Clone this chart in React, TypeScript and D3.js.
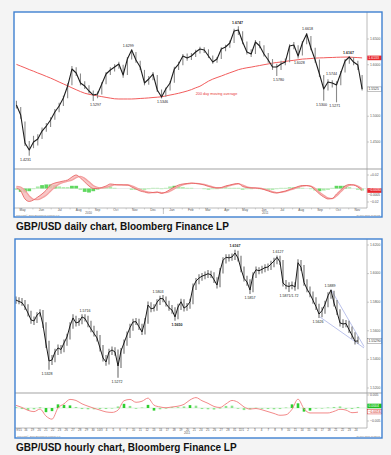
import React from "react";
import * as d3 from "d3";

const W = 391;
const H = 455;
const FONT = "'Liberation Sans', Arial, Helvetica, sans-serif";

// ---------- daily chart: one sample per week, May 2010 - Nov 2011 ----------
const dailyFirst = new Date(2010, 4, 5);
const dailyClose = [
  1.5218, 1.5024, 1.448, 1.4344, 1.45, 1.4558, 1.4713, 1.481, 1.4927, 1.5082,
  1.5199, 1.5354, 1.5587, 1.5917, 1.584, 1.5646, 1.5587, 1.549, 1.5412, 1.5432,
  1.5626, 1.582, 1.5898, 1.5956, 1.6014, 1.5801, 1.6112, 1.6286, 1.6092, 1.5956,
  1.5646, 1.5723, 1.582, 1.551, 1.5374, 1.5529, 1.5646, 1.5917, 1.6014, 1.617,
  1.6131, 1.617, 1.6248, 1.6306, 1.6286, 1.617, 1.6053, 1.6112, 1.6306, 1.6345,
  1.6422, 1.6655, 1.6675, 1.6442, 1.6248, 1.6209, 1.6442, 1.6364, 1.6209, 1.6092,
  1.5956, 1.5956, 1.6014, 1.6053, 1.6364, 1.6383, 1.617, 1.6422, 1.6597, 1.6325,
  1.6092, 1.582, 1.5529, 1.5665, 1.5646, 1.5607, 1.584, 1.6073, 1.615, 1.6053,
  1.5995, 1.5525,
];
const dailyHigh = [
  1.53, 1.518, 1.49, 1.452, 1.462, 1.465, 1.478, 1.487, 1.498, 1.514,
  1.526, 1.54, 1.564, 1.5975, 1.595, 1.583, 1.568, 1.56, 1.55, 1.548,
  1.566, 1.586, 1.595, 1.601, 1.606, 1.6, 1.615, 1.6299, 1.625, 1.608,
  1.59, 1.578, 1.586, 1.58, 1.552, 1.556, 1.568, 1.596, 1.606, 1.621,
  1.622, 1.623, 1.629, 1.635, 1.634, 1.63, 1.618, 1.615, 1.634, 1.639,
  1.647, 1.67, 1.6747, 1.665, 1.645, 1.63, 1.648, 1.646, 1.638, 1.623,
  1.611, 1.602, 1.608, 1.612, 1.64, 1.644, 1.638, 1.646, 1.6618, 1.656,
  1.633, 1.61, 1.58, 1.572, 1.57, 1.568, 1.588, 1.611, 1.6167, 1.615,
  1.608, 1.58,
];
const dailyLow = [
  1.515, 1.495, 1.442, 1.4231, 1.438, 1.443, 1.456, 1.47, 1.479, 1.493,
  1.508, 1.52, 1.535, 1.56, 1.578, 1.56, 1.553, 1.544, 1.5297, 1.535,
  1.542, 1.562, 1.58, 1.587, 1.592, 1.575, 1.58, 1.61, 1.604, 1.59,
  1.56, 1.561, 1.57, 1.547, 1.5346, 1.538, 1.55, 1.565, 1.59, 1.599,
  1.608, 1.609, 1.615, 1.622, 1.623, 1.613, 1.602, 1.604, 1.611, 1.626,
  1.633, 1.642, 1.658, 1.64, 1.62, 1.615, 1.621, 1.632, 1.616, 1.604,
  1.59, 1.578, 1.59, 1.599, 1.605, 1.63, 1.612, 1.618, 1.64, 1.628,
  1.604, 1.576, 1.53, 1.55, 1.556, 1.5271, 1.56, 1.585, 1.602, 1.599,
  1.59, 1.55,
];
const dailyMa200 = [
  1.6007, 1.5974, 1.5941, 1.5906, 1.5875, 1.584, 1.5809, 1.5774, 1.5741, 1.5704,
  1.5665, 1.5628, 1.5591, 1.5552, 1.5515, 1.5479, 1.5447, 1.5426, 1.5411, 1.5395,
  1.5381, 1.5366, 1.5352, 1.5339, 1.5335, 1.5335, 1.5335, 1.5335, 1.5339, 1.5345,
  1.535, 1.5356, 1.5364, 1.537, 1.5378, 1.5395, 1.5412, 1.5428, 1.5446, 1.5467,
  1.549, 1.5517, 1.5552, 1.5583, 1.5632, 1.5682, 1.5721, 1.5752, 1.5781, 1.5813,
  1.5844, 1.5873, 1.5904, 1.5925, 1.5941, 1.5954, 1.597, 1.5985, 1.6001, 1.6016,
  1.6032, 1.6044, 1.6053, 1.6065, 1.6077, 1.6086, 1.6098, 1.611, 1.6115, 1.6121,
  1.6129, 1.6133, 1.6135, 1.6139, 1.6141, 1.6145, 1.6147, 1.6149, 1.6149, 1.6143,
  1.6139, 1.6133,
];
const dailyMacd = [
  0.0007, -0.0037, -0.0155, -0.0192, -0.017, -0.0126, -0.0081, -0.0022, 0.0052, 0.0081,
  0.0096, 0.0111, 0.0126, 0.017, 0.02, 0.0155, 0.0096, 0.0037, 0, 0,
  0.0015, 0.0037, 0.0067, 0.0059, 0.0052, 0.0052, 0.0052, 0.0022, -0.0007, -0.0037,
  -0.0052, -0.0067, -0.0059, -0.0052, -0.0074, -0.0052, -0.0015, 0.0022, 0.0052, 0.0067,
  0.0074, 0.0081, 0.0074, 0.0067, 0.0052, 0.003, 0.0015, 0.0007, 0.0015, 0.0037,
  0.0052, 0.0067, 0.0074, 0.003, 0.0015, 0.0007, 0.0007, 0, -0.0015, -0.0037,
  -0.0059, -0.0067, -0.0052, -0.0037, -0.0015, 0.0007, 0.003, 0.0044, 0.0044, 0.003,
  -0.0022, -0.0081, -0.0126, -0.0155, -0.0148, -0.0081, -0.0022, 0.0037, 0.0059, 0.0052,
  0.0022, -0.003,
];
const dailySignal = [
  0.003, 0.002, -0.003, -0.011, -0.016, -0.0165, -0.014, -0.01, -0.004, 0.002,
  0.0065, 0.009, 0.0108, 0.0125, 0.016, 0.018, 0.015, 0.01, 0.0045, 0.0015,
  0.0005, 0.0015, 0.0035, 0.0055, 0.0058, 0.0055, 0.0052, 0.004, 0.0015, -0.0015,
  -0.004, -0.0055, -0.0062, -0.0058, -0.006, -0.0062, -0.004, -0.0005, 0.003, 0.0055,
  0.0068, 0.0075, 0.0076, 0.007, 0.006, 0.0042, 0.0025, 0.0012, 0.001, 0.0025,
  0.0042, 0.0058, 0.0068, 0.005, 0.0025, 0.0012, 0.0008, 0.0004, -0.0008, -0.0025,
  -0.0045, -0.006, -0.0058, -0.0045, -0.0025, -0.0005, 0.0018, 0.0036, 0.0044, 0.0036,
  0, -0.0055, -0.01, -0.014, -0.015, -0.011, -0.005, 0.001, 0.0048, 0.0055,
  0.0035, -0.0005,
];
const dailyHist = [
  -0.002, -0.005, -0.006, -0.004, -0.001, 0.003, 0.005, 0.006, 0.006, 0.005,
  0.003, 0.002, 0.002, 0.004, 0.004, -0.002, -0.005, -0.006, -0.004, -0.002,
  0.001, 0.002, 0.003, 0.001, 0, 0, 0, -0.002, -0.002, -0.002,
  -0.002, -0.001, 0.001, 0.001, -0.001, 0.001, 0.003, 0.004, 0.003, 0.002,
  0.001, 0.001, 0, 0, -0.001, -0.002, -0.001, -0.001, 0.001, 0.002,
  0.001, 0.001, 0.001, -0.002, -0.001, -0.001, 0, -0.001, -0.001, -0.002,
  -0.002, -0.001, 0.001, 0.001, 0.002, 0.002, 0.002, 0.001, 0, -0.001,
  -0.003, -0.004, -0.003, -0.002, 0.001, 0.004, 0.004, 0.004, 0.002, 0,
  -0.002, -0.003,
];
const dailyPriceTicks = [1.45, 1.5, 1.55, 1.6, 1.65];
const dailyMacdTicks = [-0.02, 0.02];
const dailyNotes = [
  { w: 2.1, p: 1.4231, side: "below", t: "1.4231" },
  { w: 18.5, p: 1.5297, side: "below", t: "1.5297" },
  { w: 26.2, p: 1.6299, side: "above", t: "1.6299" },
  { w: 34.2, p: 1.5346, side: "below", t: "1.5346" },
  { w: 51.8, p: 1.6747, side: "above", t: "1.6747", bold: true },
  { w: 61.4, p: 1.578, side: "below", t: "1.5780" },
  { w: 66.3, p: 1.6028, side: "on", t: "1.6028" },
  { w: 68.2, p: 1.6618, side: "above", t: "1.6618" },
  { w: 71.5, p: 1.53, side: "below", t: "1.5300" },
  { w: 73.8, p: 1.5744, side: "above", t: "1.5744" },
  { w: 74.6, p: 1.5271, side: "below", t: "1.5271" },
  { w: 77.8, p: 1.6167, side: "above", t: "1.6167", bold: true },
];

// ---------- hourly chart: Sep 15 - Nov 24 2011 ----------
const hourlyClose = [
  1.5815, 1.5805, 1.5797, 1.5766, 1.5724, 1.5676, 1.5669, 1.571, 1.5729, 1.5641,
  1.5508, 1.5389, 1.5396, 1.5452, 1.548, 1.5469, 1.5515, 1.5557, 1.5634, 1.569,
  1.5655, 1.5662, 1.5697, 1.5686, 1.5648, 1.5613, 1.5581, 1.555, 1.548, 1.541,
  1.5382, 1.5452, 1.5466, 1.5452, 1.5354, 1.5459, 1.5515, 1.5571, 1.5623, 1.5662,
  1.5664, 1.5628, 1.5592, 1.5669, 1.578, 1.5754, 1.5759, 1.5799, 1.5826, 1.5824,
  1.579, 1.5761, 1.5745, 1.5697, 1.5766, 1.5803, 1.5759, 1.5773, 1.5803, 1.5906,
  1.5948, 1.5969, 1.5982, 1.599, 1.5999, 1.5992, 1.5957, 1.592, 1.6018, 1.6093,
  1.6114, 1.611, 1.6116, 1.6144, 1.6109, 1.6032, 1.5967, 1.5941, 1.5885, 1.599,
  1.6027, 1.602, 1.603, 1.6042, 1.6046, 1.6067, 1.6088, 1.6114, 1.6081, 1.5934,
  1.5915, 1.591, 1.592, 1.5906, 1.6076, 1.6044, 1.5938, 1.5892, 1.5857, 1.5813,
  1.5769, 1.5717, 1.5741, 1.5785, 1.5845, 1.5885, 1.5794, 1.5731, 1.5655, 1.5648,
  1.5651, 1.5608, 1.5569, 1.5527, 1.5529,
];
const hourlyHigh = [
  1.584, 1.5835, 1.583, 1.5815, 1.5785, 1.574, 1.57, 1.573, 1.575, 1.5745,
  1.566, 1.553, 1.543, 1.5475, 1.5505, 1.55, 1.554, 1.558, 1.566, 1.5716,
  1.5705, 1.569, 1.5716, 1.5715, 1.5705, 1.567, 1.5635, 1.56, 1.557, 1.55,
  1.543, 1.5475, 1.549, 1.5485, 1.547, 1.548, 1.554, 1.5595, 1.565, 1.5685,
  1.569, 1.5685, 1.565, 1.569, 1.5805, 1.58, 1.5785, 1.582, 1.5845, 1.585,
  1.584, 1.581, 1.578, 1.5765, 1.579, 1.5825, 1.582, 1.5795, 1.5825, 1.593,
  1.597, 1.5995, 1.6005, 1.6015, 1.6025, 1.602, 1.601, 1.5975, 1.604, 1.6115,
  1.6135, 1.6135, 1.614, 1.6167, 1.616, 1.6125, 1.605, 1.5985, 1.596, 1.601,
  1.605, 1.6045, 1.6055, 1.6065, 1.607, 1.609, 1.611, 1.6127, 1.6125, 1.6095,
  1.5955, 1.594, 1.5945, 1.594, 1.61, 1.6095, 1.606, 1.596, 1.591, 1.5875,
  1.5835, 1.579, 1.5765, 1.581, 1.587, 1.5889, 1.588, 1.5815, 1.575, 1.568,
  1.5675, 1.567, 1.563, 1.559, 1.556,
];
const hourlyLow = [
  1.579, 1.5785, 1.5775, 1.5745, 1.57, 1.565, 1.564, 1.5655, 1.57, 1.562,
  1.548, 1.5328, 1.536, 1.538, 1.543, 1.544, 1.545, 1.5495, 1.554, 1.5615,
  1.563, 1.5635, 1.5645, 1.5665, 1.5625, 1.559, 1.556, 1.5525, 1.5455, 1.5385,
  1.5355, 1.5365, 1.543, 1.5425, 1.5272, 1.534, 1.544, 1.5495, 1.555, 1.56,
  1.564, 1.5605, 1.557, 1.5575, 1.565, 1.573, 1.5735, 1.574, 1.578, 1.58,
  1.577, 1.574, 1.572, 1.567, 1.568, 1.5745, 1.5735, 1.574, 1.5755, 1.5785,
  1.5885, 1.5925, 1.595, 1.596, 1.597, 1.597, 1.5935, 1.5895, 1.5905, 1.6,
  1.607, 1.6085, 1.609, 1.6095, 1.6085, 1.601, 1.5945, 1.5915, 1.5857, 1.587,
  1.597, 1.5995, 1.6, 1.601, 1.602, 1.6025, 1.6045, 1.6065, 1.606, 1.591,
  1.589, 1.5871, 1.589, 1.588, 1.589, 1.602, 1.5915, 1.587, 1.5835, 1.579,
  1.5745, 1.569, 1.5695, 1.572, 1.5765, 1.5825, 1.577, 1.571, 1.563, 1.562,
  1.5625, 1.5585, 1.5545, 1.5505, 1.551,
];
const hourlyMacd = [
  0.001, 0.0002, -0.0009, -0.0014, -0.0004, -0.0031, -0.0043, 0, 0.0016, 0.0033,
  0.0029, 0.0016, 0.0007, -0.0001, -0.0008, -0.0015, -0.0017, -0.0008, 0.0028, 0.0033,
  0.0022, 0.0026, 0.0038, 0.0011, 0.0004, 0.0001, 0.0004, 0.0007, 0.0014, 0.0031,
  0.004, 0.0028, 0.0018, 0.0006, 0.0002, 0.0016, 0.0029, 0.0022, 0.0004, -0.0004,
  -0.0002, -0.0007, -0.0014, -0.0021, -0.0028, -0.0026, -0.0005, 0.0034, -0.0003, -0.0019,
  -0.0019, -0.0019, -0.0019, -0.0013, -0.0005, -0.0008, -0.0018, -0.0016,
];
const hourlyHist = [
  0.0003, -0.0004, -0.0008, -0.0005, 0.0003, -0.0016, -0.0012, 0.0014, 0.0012, 0.001,
  0.0004, -0.0004, -0.0005, -0.0005, -0.0004, -0.0004, -0.0001, 0.0006, 0.0016, 0.0008,
  -0.0003, 0.0002, 0.0012, -0.001, -0.0005, -0.0001, 0.0003, 0.0003, 0.0006, 0.0011,
  0.0009, -0.0004, -0.0005, -0.0006, -0.0002, 0.0008, 0.0009, -0.0003, -0.0008, -0.0005,
  0.0001, -0.0003, -0.0004, -0.0005, -0.0004, 0.0002, 0.0014, 0.0018, -0.0014, -0.001,
  -0.0002, 0, 0.0002, 0.0004, 0.0006, -0.0003, -0.0004, 0.0004,
];
const hourlyDays = [
  "9/15", "16", "19", "20", "21", "22", "23", "26", "27", "28", "29", "30",
  "10/3", "4", "5", "6", "7", "10", "11", "12", "13", "14", "17", "18", "19", "20", "21",
  "24", "25", "26", "27", "28", "31", "11/1", "2", "3", "4", "7", "8", "9", "10", "11",
  "14", "15", "16", "17", "18", "21", "22", "23", "24",
];
const hourlyPriceTicks = [1.52, 1.54, 1.56, 1.58, 1.6, 1.62];
const hourlyMacdTicks = [-0.005, 0.005];
const hourlyNotes = [
  { i: 10.3, p: 1.5328, side: "below", t: "1.5328" },
  { i: 23, p: 1.5716, side: "above", t: "1.5716" },
  { i: 33.7, p: 1.5272, side: "below", t: "1.5272" },
  { i: 47.3, p: 1.5845, side: "above", t: "1.5803" },
  { i: 53.7, p: 1.567, side: "below", t: "1.5650", bold: true },
  { i: 73, p: 1.6167, side: "above", t: "1.6167", bold: true },
  { i: 78, p: 1.5857, side: "below", t: "1.5857" },
  { i: 87.3, p: 1.6127, side: "above", t: "1.6127" },
  { i: 91, p: 1.5871, side: "below", t: "1.5871/1.72" },
  { i: 100.7, p: 1.569, side: "below", t: "1.5626" },
  { i: 104.7, p: 1.5889, side: "above", t: "1.5889" },
];
// falling wedge drawn on the hourly chart: [index, price]
const wedgeUpper = [[105, 1.5889], [116, 1.549]];
const wedgeLower = [[101.3, 1.5697], [116, 1.548]];

const BLUE = "#3f80d0";
const AXIS = "#a8a8a8";
const TICK_TXT = "#555";

function noteY(y: number, side: string) {
  if (side === "above") return y - 3.5;
  if (side === "below") return y + 4;
  return y;
}

function PriceBox({ x, y, text, fill, color, stroke }: any) {
  return (
    <g>
      <rect x={x} y={y - 2.3} width={14.5} height={4.6} fill={fill} stroke={stroke || "none"} strokeWidth={0.4} />
      <text x={x + 1.2} y={y} fontSize={3.4} fill={color} dominantBaseline="middle">
        {text}
      </text>
    </g>
  );
}

function DailyChart() {
  const left = 14, right = 382, top = 12, bottom = 217;
  const axisX = 367, split = 169, base = 208;
  const x = d3.scaleTime().domain([new Date(2010, 4, 1), new Date(2011, 11, 1)]).range([left, axisX]);
  const y = d3.scaleLinear().domain([1.45, 1.65]).range([142, 39]);
  const ym = d3.scaleLinear().domain([-0.02, 0.02]).range([202, 175]);
  const weekDate = (i: number) => new Date(dailyFirst.getTime() + i * 7 * 864e5);
  const xi = (i: number) => x(weekDate(i));

  const line = d3.line<number>().x((_, i) => xi(i)).y((d) => y(d));
  const mline = d3.line<number>().x((_, i) => xi(i)).y((d) => ym(d)).curve(d3.curveMonotoneX);
  const band = d3
    .area<number>()
    .x((_, i) => xi(i))
    .y0((_, i) => ym(dailySignal[i]))
    .y1((d) => ym(d))
    .curve(d3.curveMonotoneX);
  const months = d3.timeMonth.range(new Date(2010, 4, 1), new Date(2011, 11, 1));
  const fmtMonth = d3.timeFormat("%b");
  const lastMa = dailyMa200[dailyMa200.length - 1];
  const lastClose = dailyClose[dailyClose.length - 1];
  const lastMacd = dailyMacd[dailyMacd.length - 1];
  const lastSignal = dailySignal[dailySignal.length - 1];
  const maLabelAt = 42;

  return (
    <g>
      <defs>
        <clipPath id="dmain">
          <rect x={left} y={top} width={axisX - left} height={split - top} />
        </clipPath>
        <clipPath id="dmacd">
          <rect x={left} y={split} width={axisX - left} height={base - split} />
        </clipPath>
      </defs>
      <rect x={left} y={top} width={right - left} height={bottom - top} fill="#fff" />
      <line x1={axisX} x2={axisX} y1={top} y2={base} stroke={AXIS} strokeWidth={0.8} />
      <line x1={left} x2={right} y1={split} y2={split} stroke="#999" strokeWidth={0.9} />
      <line x1={left} x2={axisX} y1={base} y2={base} stroke={AXIS} strokeWidth={0.8} />

      <g clipPath="url(#dmain)">
        <path d={d3.line<number>().x((_, i) => xi(i)).y((d) => y(d)).curve(d3.curveMonotoneX)(dailyMa200) || ""}
          fill="none" stroke="#f25c5c" strokeWidth={1} />
        {dailyClose.map((_, i) => (
          <line key={i} x1={xi(i)} x2={xi(i)} y1={y(dailyHigh[i])} y2={y(dailyLow[i])} stroke="#8a8a8a" strokeWidth={1.1} />
        ))}
        <path d={line(dailyClose) || ""} fill="none" stroke="#1e1e1e" strokeWidth={1.1} strokeLinejoin="round" />
      </g>
      {dailyNotes.map((n, k) => (
        <text key={k} x={xi(n.w)} y={noteY(y(n.p), n.side)} fontSize={3.6} fill="#222"
          fontWeight={n.bold ? "bold" : "normal"} textAnchor="middle" dominantBaseline="middle">
          {n.t}
        </text>
      ))}
      <text x={xi(maLabelAt)} y={y(dailyMa200[maLabelAt]) + 6} fontSize={3.8} fill="#e83a3a" dominantBaseline="middle">
        200 day moving average
      </text>

      {dailyPriceTicks.map((t) => (
        <g key={t}>
          <line x1={axisX} x2={axisX + 2} y1={y(t)} y2={y(t)} stroke={AXIS} strokeWidth={0.6} />
          <text x={axisX + 3} y={y(t)} fontSize={3.4} fill={TICK_TXT} dominantBaseline="middle">
            {d3.format(".4f")(t)}
          </text>
        </g>
      ))}
      <PriceBox x={axisX + 0.3} y={y(lastMa)} text={d3.format(".4f")(lastMa)} fill="#e8262c" color="#fff" />
      <PriceBox x={axisX + 0.3} y={y(lastClose)} text={d3.format(".4f")(lastClose)} fill="#fff" color="#333" stroke="#666" />

      <g clipPath="url(#dmacd)">
        <line x1={left} x2={axisX} y1={ym(0)} y2={ym(0)} stroke="#d8d8d8" strokeWidth={0.5} />
        {dailyHist.map((h, i) => (
          <rect key={i} x={xi(i) - 1.9} width={3.8} y={Math.min(ym(h), ym(0))} height={Math.abs(ym(h) - ym(0))}
            fill={Math.abs(h) > 0.0035 ? "#5fd85f" : "#a6eca6"} />
        ))}
        <path d={band(dailyMacd) || ""} fill="#f7bcbc" opacity={0.85} />
        <path d={mline(dailySignal) || ""} fill="none" stroke="#f4a0a0" strokeWidth={1.3} />
        <path d={mline(dailyMacd) || ""} fill="none" stroke="#e65858" strokeWidth={0.8} />
      </g>
      {dailyMacdTicks.map((t) => (
        <g key={t}>
          <line x1={axisX} x2={axisX + 2} y1={ym(t)} y2={ym(t)} stroke={AXIS} strokeWidth={0.6} />
          <text x={axisX + 3} y={ym(t)} fontSize={3.4} fill={TICK_TXT} dominantBaseline="middle">
            {d3.format("+.2f")(t)}
          </text>
        </g>
      ))}
      <PriceBox x={axisX + 0.3} y={ym(lastMacd)} text={d3.format(".4f")(lastMacd)} fill="#e8262c" color="#fff" />
      <text x={axisX + 1.5} y={ym(lastMacd) + 4.2} fontSize={3.2} fill="#444" dominantBaseline="middle">
        {d3.format(".4f")(lastSignal)}
      </text>

      {months.map((m, k) => (
        <g key={k}>
          <line x1={x(m)} x2={x(m)} y1={base} y2={base + 1.5} stroke={AXIS} strokeWidth={0.5} />
          <text x={x(d3.timeDay.offset(m, 14))} y={base + 2.6} fontSize={3.2} fill={TICK_TXT} textAnchor="middle">
            {fmtMonth(m)}
          </text>
        </g>
      ))}
      <line x1={x(new Date(2011, 0, 1))} x2={x(new Date(2011, 0, 1))} y1={base} y2={base + 6} stroke="#888" strokeWidth={0.5} />
      <text x={(x(new Date(2010, 4, 1)) + x(new Date(2011, 0, 1))) / 2} y={base + 6.3} fontSize={3} fill={TICK_TXT} textAnchor="middle">2010</text>
      <text x={(x(new Date(2011, 0, 1)) + x(new Date(2011, 11, 1))) / 2} y={base + 6.3} fontSize={3} fill={TICK_TXT} textAnchor="middle">2011</text>
      <text x={left + 2} y={bottom - 1.2} fontSize={2.4} fill="#888">Copyright© 2011 Bloomberg Finance L.P.</text>
      <text x={right - 2} y={bottom - 1.2} fontSize={2.4} fill="#888" textAnchor="end">24-Nov-2011 10:21:32</text>

      <rect x={left} y={top} width={right - left} height={bottom - top} fill="none" stroke={BLUE} strokeWidth={1.4} />
    </g>
  );
}

function HourlyChart() {
  const left = 15, right = 382, top = 239, bottom = 438;
  const axisX = 367, split = 393, base = 428;
  const x = d3.scaleLinear().domain([0, hourlyClose.length - 1]).range([16, 358]);
  const xm = d3.scaleLinear().domain([0, hourlyMacd.length - 1]).range([16, 358]);
  const y = d3.scaleLinear().domain([1.52, 1.62]).range([388, 245]);
  const ym = d3.scaleLinear().domain([-0.005, 0.005]).range([421, 395]);
  const xd = d3.scalePoint<string>().domain(hourlyDays.map((_, i) => String(i))).range([19, 356]);

  const line = d3.line<number>().x((_, i) => x(i)).y((d) => y(d));
  const mline = d3.line<number>().x((_, i) => xm(i)).y((d) => ym(d)).curve(d3.curveMonotoneX);
  const seg = d3.line<number[]>().x((d) => x(d[0])).y((d) => y(d[1]));
  const lastClose = hourlyClose[hourlyClose.length - 1];
  const lastMacd = hourlyMacd[hourlyMacd.length - 1];
  const lastHist = hourlyHist[hourlyHist.length - 1];

  return (
    <g>
      <defs>
        <clipPath id="hmain">
          <rect x={left} y={top} width={axisX - left} height={split - top} />
        </clipPath>
        <clipPath id="hmacd">
          <rect x={left} y={split} width={axisX - left} height={base - split} />
        </clipPath>
      </defs>
      <rect x={left} y={top} width={right - left} height={bottom - top} fill="#fff" />
      <line x1={axisX} x2={axisX} y1={top} y2={base} stroke={AXIS} strokeWidth={0.8} />
      <line x1={left} x2={right} y1={split} y2={split} stroke="#999" strokeWidth={0.9} />
      <line x1={left} x2={axisX} y1={base} y2={base} stroke={AXIS} strokeWidth={0.8} />

      <g clipPath="url(#hmain)">
        <path d={seg(wedgeUpper) || ""} stroke="#aab2e6" strokeWidth={0.8} fill="none" />
        <path d={seg(wedgeLower) || ""} stroke="#aab2e6" strokeWidth={0.8} fill="none" />
        {hourlyClose.map((_, i) => (
          <line key={i} x1={x(i)} x2={x(i)} y1={y(hourlyHigh[i])} y2={y(hourlyLow[i])} stroke="#6e6e6e" strokeWidth={1.1} />
        ))}
        <path d={line(hourlyClose) || ""} fill="none" stroke="#1a1a1a" strokeWidth={1} strokeLinejoin="round" />
      </g>
      {hourlyNotes.map((n, k) => (
        <text key={k} x={x(n.i)} y={noteY(y(n.p), n.side)} fontSize={3.6} fill="#222"
          fontWeight={n.bold ? "bold" : "normal"} textAnchor="middle" dominantBaseline="middle">
          {n.t}
        </text>
      ))}

      {hourlyPriceTicks.map((t) => (
        <g key={t}>
          <line x1={axisX} x2={axisX + 2} y1={y(t)} y2={y(t)} stroke={AXIS} strokeWidth={0.6} />
          <text x={axisX + 3} y={y(t)} fontSize={3.4} fill={TICK_TXT} dominantBaseline="middle">
            {d3.format(".4f")(t)}
          </text>
        </g>
      ))}
      <PriceBox x={axisX + 0.3} y={y(lastClose)} text={d3.format(".5f")(lastClose)} fill="#fff" color="#333" stroke="#666" />

      <g clipPath="url(#hmacd)">
        <line x1={left} x2={axisX} y1={ym(0)} y2={ym(0)} stroke="#cfe9cf" strokeWidth={0.6} />
        {hourlyHist.map((h, i) => (
          <rect key={i} x={xm(i) - 1.3} width={2.6} y={Math.min(ym(h), ym(0))} height={Math.max(0.6, Math.abs(ym(h) - ym(0)))}
            fill={Math.abs(h) > 0.0009 ? "#2fcf2f" : "#8fe48f"} />
        ))}
        <path d={mline(hourlyMacd) || ""} fill="none" stroke="#f07c7c" strokeWidth={0.9} />
      </g>
      {hourlyMacdTicks.map((t) => (
        <g key={t}>
          <line x1={axisX} x2={axisX + 2} y1={ym(t)} y2={ym(t)} stroke={AXIS} strokeWidth={0.6} />
          <text x={axisX + 3} y={ym(t)} fontSize={3.4} fill={TICK_TXT} dominantBaseline="middle">
            {d3.format(".3f")(t)}
          </text>
        </g>
      ))}
      <PriceBox x={axisX + 0.3} y={ym(lastHist) - 1} text={d3.format(".4f")(lastHist)} fill="#1fbf1f" color="#fff" />
      <PriceBox x={axisX + 0.3} y={ym(lastMacd) - 0.5} text={d3.format(".4f")(lastMacd)} fill="#fff" color="#c00" stroke="#c00" />

      {hourlyDays.map((d, k) => (
        <g key={k}>
          <line x1={xd(String(k))} x2={xd(String(k))} y1={base} y2={base + 1.2} stroke={AXIS} strokeWidth={0.4} />
          <text x={xd(String(k))} y={base + 2.5} fontSize={2.9} fill={TICK_TXT} textAnchor="middle">
            {d}
          </text>
        </g>
      ))}
      <text x={x(57)} y={base + 5.8} fontSize={2.9} fill={TICK_TXT} textAnchor="middle">2011</text>
      <text x={left + 2} y={bottom - 1.2} fontSize={2.4} fill="#888">Copyright© 2011 Bloomberg Finance L.P.</text>
      <text x={right - 2} y={bottom - 1.2} fontSize={2.4} fill="#888" textAnchor="end">24-Nov-2011 10:22:05</text>

      <rect x={left} y={top} width={right - left} height={bottom - top} fill="none" stroke={BLUE} strokeWidth={1.4} />
    </g>
  );
}

export default function App() {
  return (
    <svg width={W} height={H} viewBox={`0 0 ${W} ${H}`}
      style={{ position: "absolute", left: 0, top: 0, fontFamily: FONT }}>
      <rect width={W} height={H} fill="#f4f4f4" />
      <DailyChart />
      <text x={16} y={230} fontSize={10} fontWeight="bold" fill="#111">
        GBP/USD daily chart, Bloomberg Finance LP
      </text>
      <HourlyChart />
      <text x={16} y={450.5} fontSize={10} fontWeight="bold" fill="#111">
        GBP/USD hourly chart, Bloomberg Finance LP
      </text>
    </svg>
  );
}
